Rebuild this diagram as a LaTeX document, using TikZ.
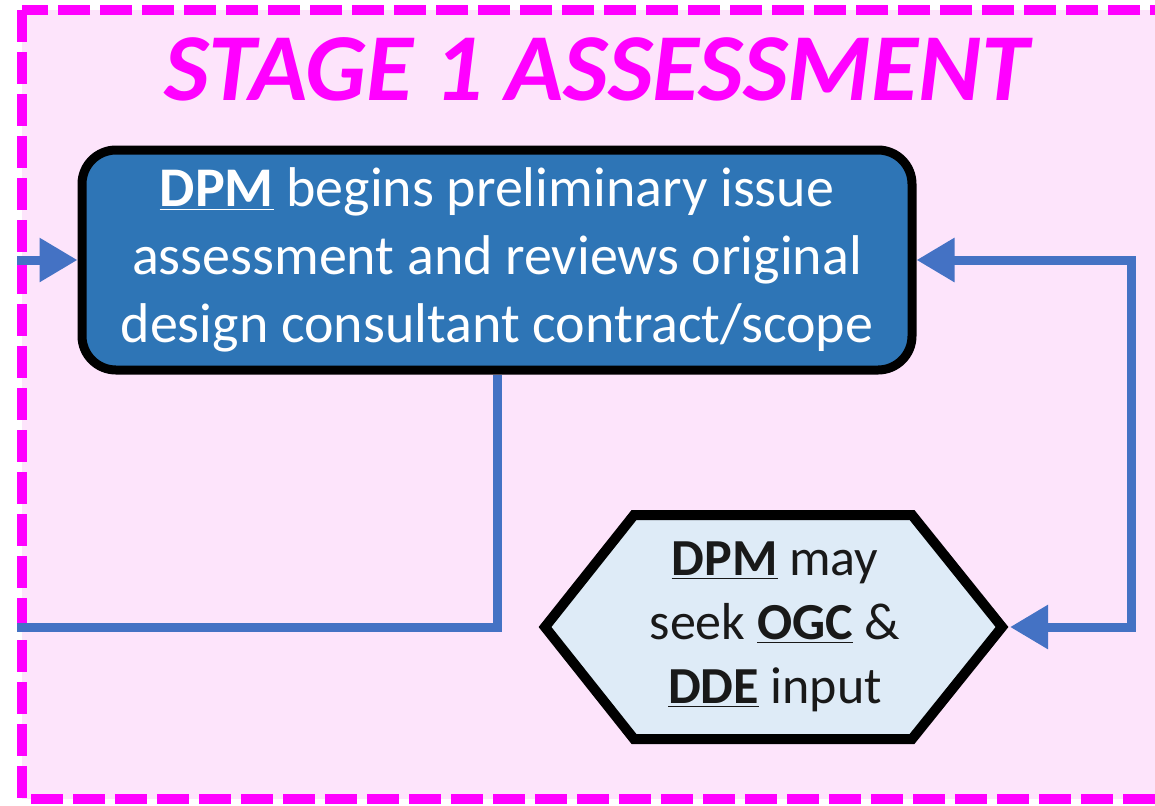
\documentclass[tikz,border=0pt]{standalone}
\usepackage{fontspec}
\setmainfont{Carlito}
\usetikzlibrary{arrows.meta}
\definecolor{framepink}{HTML}{FDE4FB}
\definecolor{framemag}{HTML}{FF00FF}
\definecolor{boxblue}{HTML}{2E75B6}
\definecolor{hexblue}{HTML}{DEEBF7}
\definecolor{linkblue}{HTML}{4472C4}
\newcommand{\myul}[1]{\underline{\textbf{#1}}}
\begin{document}
\begin{tikzpicture}[x=0.5pt,y=-0.5pt,
  frame/.style={draw=framemag, fill=framepink, line width=5pt, dash pattern=on 16pt off 5pt},
  titletext/.style={text=framemag, font=\fontsize{48}{58}\selectfont\bfseries\itshape, inner sep=0pt},
  mainbox/.style={draw=black, line width=4.5pt, fill=boxblue, rounded corners=17pt,
    minimum width=415pt, minimum height=110pt, text=white, align=center,
    font=\fontsize{28}{34}\selectfont, inner sep=0pt},
  hexshape/.style={draw=black, line width=5pt, fill=hexblue, line join=miter},
  hextext/.style={align=center, text=black!90, font=\fontsize{26}{32}\selectfont, inner sep=0pt},
  link/.style={draw=linkblue, line width=4.5pt},
  tipa/.style={-{Triangle[length=19pt,width=21pt]}},
  tipb/.style={{Triangle[length=19pt,width=21pt]}-{Triangle[length=19pt,width=21pt]}}
]
\useasboundingbox[fill=white] (0,0) rectangle (1155,805);
\path[frame] (22,10) rectangle (1220,799);
\node[titletext] (title) at (597,69) {STAGE 1 ASSESSMENT};
\node[mainbox] (box) at (497,260) {\myul{DPM} begins preliminary issue\\assessment and reviews original\\design consultant contract/scope};
\path[hexshape] (545,627) -- (634,515) -- (912,515) -- (1002,627) -- (912,739) -- (634,739) -- cycle;
\node[hextext] (hex) at (775,627) {\myul{DPM} may\\seek \myul{OGC} \&\\\myul{DDE} input};
\coordinate (hexE) at (1010,627);
\coordinate (rturn) at (1131,627);
\coordinate (lin) at (17,260);
\coordinate (lout) at (17,627);
\draw[link, tipa] (lin) -- (box.west);
\draw[link, tipb] (box.east) -| (rturn) -- (hexE);
\draw[link] (box.south) |- (lout);
\end{tikzpicture}
\end{document}
